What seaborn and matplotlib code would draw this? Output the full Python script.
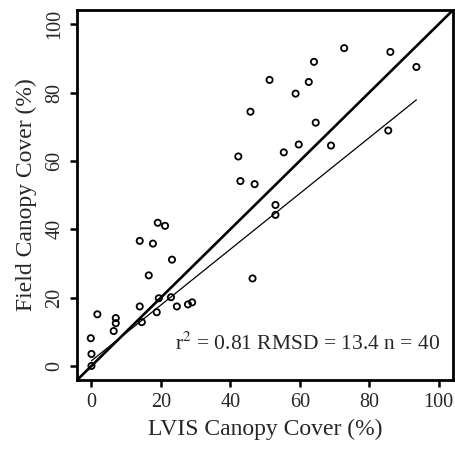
import pandas as pd
import numpy as np
import matplotlib
matplotlib.use("Agg")
import matplotlib.pyplot as plt
import seaborn as sns

# LVIS vs field canopy cover (%)
lvis_cover = [0.0, 0.0, -0.2, 1.7, 6.4, 7.0, 7.0, 13.9, 14.5, 16.5,
              13.9, 17.7, 19.1, 21.2, 18.8, 19.4, 22.9, 23.2, 24.6, 27.8,
              29.0, 42.3, 42.9, 45.8, 46.4, 47.0, 51.3, 53.0, 53.0, 55.4,
              58.8, 59.7, 62.6, 64.1, 64.6, 69.0, 72.8, 85.5, 86.1, 93.6]
field_cover = [0.0, 3.5, 8.1, 15.1, 10.2, 12.5, 14.0, 17.4, 12.8, 26.5,
               36.6, 35.8, 41.9, 41.0, 15.7, 19.8, 20.1, 31.1, 17.4, 18.0,
               18.6, 61.3, 54.1, 74.4, 25.6, 53.2, 83.7, 47.1, 44.2, 62.5,
               79.7, 64.8, 83.1, 89.0, 71.2, 64.5, 93.0, 68.9, 91.9, 87.5]

# fitted regression (intercept, slope) and its x extent
fit_intercept = 1.5
fit_slope = 0.816
fit_x = [0.0, 93.6]

axis_lim = [-4.2, 104.2]
tick_vals = [0, 20, 40, 60, 80, 100]
stats_text = "r$^2$ = 0.81 RMSD = 13.4 n = 40"

df = pd.DataFrame({"lvis": lvis_cover, "field": field_cover})
fit_df = pd.DataFrame({"x": fit_x, "y": [fit_intercept + fit_slope * v for v in fit_x]})
one_df = pd.DataFrame({"x": axis_lim, "y": axis_lim})

sns.set_style("ticks")
plt.rcParams["font.family"] = ["Liberation Serif", "DejaVu Serif"]
plt.rcParams["mathtext.fontset"] = "stix"

fig = plt.figure(figsize=(4.55, 4.5), dpi=100)
ax = fig.add_axes([0.169, 0.155, 0.827, 0.823])

# 1:1 line and regression line
sns.lineplot(data=one_df, x="x", y="y", ax=ax, color="black", linewidth=1.9)
sns.lineplot(data=fit_df, x="x", y="y", ax=ax, color="black", linewidth=0.9)

sns.scatterplot(data=df, x="lvis", y="field", ax=ax, marker="o",
                s=20, facecolor="none", edgecolor="black", linewidth=1.3, zorder=3)

ax.set_xlim(axis_lim)
ax.set_ylim(axis_lim)
ax.set_xticks(tick_vals)
ax.set_yticks(tick_vals)
ax.set_xlabel("LVIS Canopy Cover (%)", fontsize=17, labelpad=5)
ax.set_ylabel("Field Canopy Cover (%)", fontsize=17, labelpad=6)
ax.tick_params(axis="both", labelsize=14.5, length=5, width=1.8, color="black", pad=4)
plt.setp(ax.get_yticklabels(), rotation=90, va="center")

for s in ax.spines.values():
    s.set_visible(True)
    s.set_linewidth(2.0)
    s.set_color("black")

ax.text(100.3, 6.5, stats_text, ha="right", va="center", fontsize=15.5)

fig.savefig("out.png", dpi=100)
